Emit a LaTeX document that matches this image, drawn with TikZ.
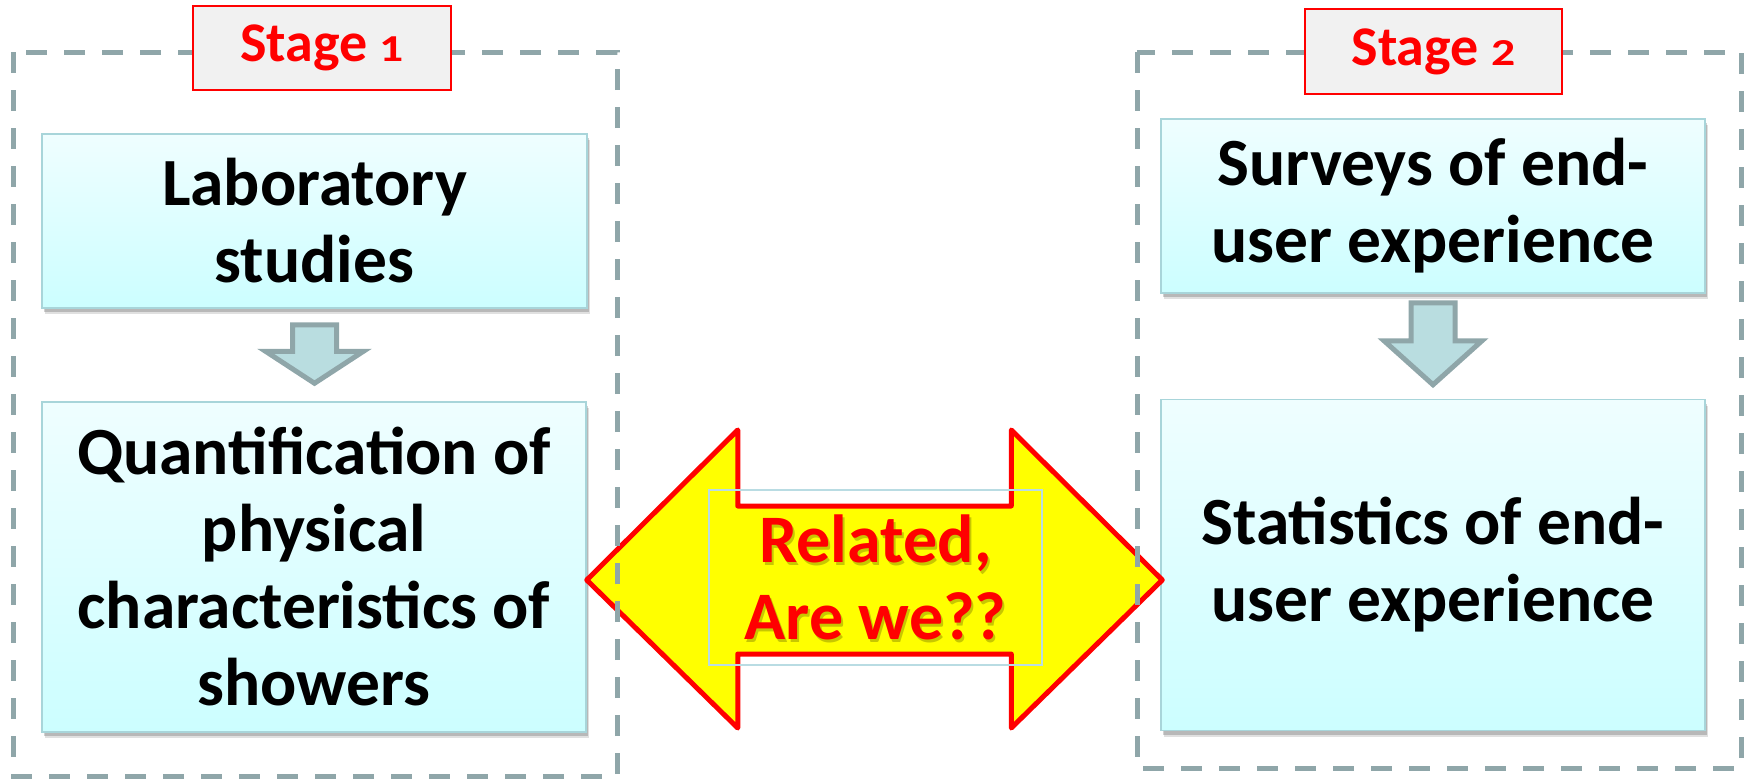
\documentclass[tikz,border=0pt]{standalone}
\usepackage{graphicx}
\usepackage{fontspec}
\setmainfont{Carlito}
\usetikzlibrary{calc,shadows}

\definecolor{dashgray}{HTML}{8FA6A9}
\definecolor{boxedge}{HTML}{A8D5DA}
\definecolor{boxtop}{HTML}{EFFEFF}
\definecolor{boxbot}{HTML}{CCFEFF}
\definecolor{arrfill}{HTML}{B9DDE0}
\definecolor{arredge}{HTML}{8FA6A9}
\definecolor{labelfill}{HTML}{F1F1F1}
\definecolor{relframe}{HTML}{B9DCE3}
\definecolor{hotred}{HTML}{FF0000}
\definecolor{hotyellow}{HTML}{FFFF00}

% short stage numeral, squeezed to x-height like an old-style figure
\newcommand{\stagenum}[1]{\scalebox{0.85}[0.68]{#1}}

% block arrow pointing down from one box to the next
% #1 upper node, #2 lower node, #3 gap below upper, #4 gap above lower, #5 head length
\newcommand{\blockdown}[5]{%
  \draw[blockarr] let \p1=($(#1.south)+(0,#3)$), \p2=($(#2.north)+(0,-#4)$) in
    (\x1-22pt,\y1) -- (\x1+22pt,\y1) -- (\x1+22pt,\y2+#5pt) -- (\x1+49pt,\y2+#5pt)
    -- (\x1,\y2) -- (\x1-49pt,\y2+#5pt) -- (\x1-22pt,\y2+#5pt) -- cycle;}

\begin{document}
\begin{tikzpicture}[x=1pt,y=-1pt,
  contentbox/.style={draw=boxedge, line width=1.5pt, top color=boxtop, bottom color=boxbot,
    inner sep=0pt, align=center, font=\bfseries\fontsize{67.5}{77}\selectfont,
    drop shadow={shadow xshift=2pt, shadow yshift=-4pt, fill=black, opacity=0.18},
    drop shadow={shadow xshift=3pt, shadow yshift=-6pt, fill=black, opacity=0.12}},
  stagebox/.style={draw=hotred, line width=1.5pt, fill=labelfill, text=hotred, inner sep=0pt,
    font=\bfseries\fontsize{56}{60}\selectfont},
  dashbox/.style={draw=dashgray, line width=5pt, dash pattern=on 21pt off 17pt},
  blockarr/.style={draw=arredge, fill=arrfill, line width=5pt, line join=miter},
  dblarrow/.style={draw=hotred, fill=hotyellow, line width=5pt, line join=round},
  reltext/.style={align=center, inner sep=0pt, font=\bfseries\fontsize{68}{77}\selectfont}]

\useasboundingbox (0,0) rectangle (1750,780);

% content boxes
\node[contentbox, minimum width=545pt, minimum height=174pt] (lab) at (314.5,221)
  {Laboratory\\studies};
\node[contentbox, minimum width=544pt, minimum height=330pt] (quant) at (314,567)
  {Quantification of\\physical\\characteristics of\\showers};
\node[contentbox, minimum width=544pt, minimum height=174pt] (surv) at (1433,206)
  {Surveys of end-\\user experience};
\node[contentbox, minimum width=544pt, minimum height=331pt] (stats) at (1433,565)
  {Statistics of end-\\user experience};

% arrows inside each stage
\blockdown{lab}{quant}{16}{18}{32}
\blockdown{surv}{stats}{9}{14}{44}

% two-headed arrow between the stages
\coordinate (ltip) at ($(quant.east)+(0,13)$);
\coordinate (rtip) at ($(stats.west)+(2,15)$);
\draw[dblarrow] let \p1=(ltip), \p2=(rtip) in
  (\p1) -- (\x1+151pt,\y1+150pt) -- (\x1+151pt,\y1+74pt) -- (\x2-151pt,\y1+74pt)
  -- (\x2-151pt,\y1+150pt) -- (\p2) -- (\x2-151pt,\y1-148pt) -- (\x2-151pt,\y1-74pt)
  -- (\x1+151pt,\y1-74pt) -- (\x1+151pt,\y1-148pt) -- cycle;

\node[reltext, text=black, opacity=0.22] (relshadow) at (877.5,580) {Related,\\Are we??};
\node[reltext, text=hotred, draw=relframe, line width=1.2pt,
  minimum width=333pt, minimum height=175pt] (rel) at (875.5,577.5) {Related,\\Are we??};

% dashed stage frames
\draw[dashbox] (13,52) rectangle (617,776);
\draw[dashbox] (1137,52) rectangle (1741,768);

% stage labels
\node[stagebox, minimum width=258pt, minimum height=84pt] (stage1) at (322,48)
  {Stage \stagenum{1}};
\node[stagebox, minimum width=257pt, minimum height=85pt] (stage2) at (1433.5,51.5)
  {Stage \stagenum{2}};

\end{tikzpicture}
\end{document}
